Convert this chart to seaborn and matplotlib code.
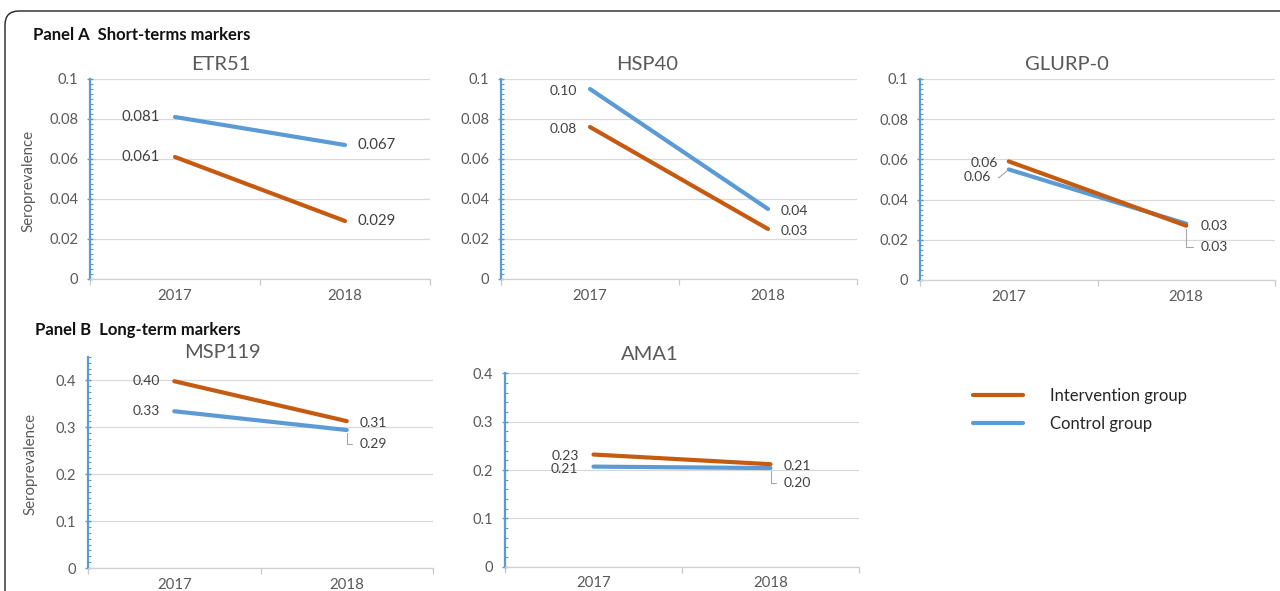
import matplotlib
matplotlib.use("Agg")
import matplotlib.pyplot as plt
from matplotlib.patches import FancyBboxPatch
from matplotlib.transforms import IdentityTransform
from matplotlib.ticker import MultipleLocator, FuncFormatter
import pandas as pd
import seaborn as sns

# ---- data -----------------------------------------------------------------
years = ["2017", "2018"]
groups = ["Intervention group", "Control group"]

etr51_intervention = [0.061, 0.029]
etr51_control = [0.081, 0.067]
hsp40_intervention = [0.076, 0.025]
hsp40_control = [0.095, 0.035]
glurp0_intervention = [0.059, 0.027]
glurp0_control = [0.055, 0.028]
msp119_intervention = [0.398, 0.313]
msp119_control = [0.334, 0.294]
ama1_intervention = [0.232, 0.212]
ama1_control = [0.207, 0.204]

panel_titles = ["ETR51", "HSP40", "GLURP-0", "MSP119", "AMA1"]
label_formats = ["{:.3f}", "{:.2f}", "{:.2f}", "{:.2f}", "{:.2f}"]

# ---- style ----------------------------------------------------------------
sns.set_theme(style="white")
plt.rcParams["font.family"] = ["Lato", "DejaVu Sans"]

ORANGE = "#C55A11"
BLUE = "#5B9BD5"
GREY_TXT = "#595959"
DARK_TXT = "#404040"
GRID = "#D9D9D9"
palette = {"Intervention group": ORANGE, "Control group": BLUE}

W, H = 1280, 591
fig = plt.figure(figsize=(W / 100, H / 100), dpi=100)


def rect(left, right, top, bottom):
    return [left / W, 1 - bottom / H, (right - left) / W, (bottom - top) / H]


# Rounded frame around the whole figure (runs off the right and bottom edges)
frame = FancyBboxPatch((5, -30), 1320, H - 11 + 30,
                       boxstyle="round,pad=0,rounding_size=14",
                       transform=IdentityTransform(), fill=False,
                       edgecolor="#222222", linewidth=1.0)
fig.patches.append(frame)

fig.text(33 / W, 1 - 35 / H, "Panel A  Short-terms markers", fontsize=12,
         fontweight="bold", color="#111111", va="center", ha="left")
fig.text(35 / W, 1 - 330 / H, "Panel B  Long-term markers", fontsize=12,
         fontweight="bold", color="#111111", va="center", ha="left")

panels = [
    dict(rect=rect(90, 430, 79, 279), ylim=0.1, major=0.02, minor=0.0025,
         inter=etr51_intervention, ctrl=etr51_control, title_xy=(221, 64),
         ylabel_xy=(28, 181), fs=10.8,
         # (group, year index, dx px, dy px, ha, leader style)
         labels=[("Intervention group", 0, -15, 0, "right", None),
                 ("Control group", 0, -15, 0, "right", None),
                 ("Intervention group", 1, 13, 0, "left", None),
                 ("Control group", 1, 13, 0, "left", None)]),
    dict(rect=rect(501, 857, 79, 279), ylim=0.1, major=0.02, minor=0.0025,
         inter=hsp40_intervention, ctrl=hsp40_control, title_xy=(647, 64),
         ylabel_xy=None, fs=10,
         labels=[("Intervention group", 0, -13, -2, "right", None),
                 ("Control group", 0, -13, -2, "right", None),
                 ("Intervention group", 1, 13, -2, "left", None),
                 ("Control group", 1, 13, -2, "left", None)]),
    dict(rect=rect(920, 1275, 79, 280), ylim=0.1, major=0.02, minor=0.0025,
         inter=glurp0_intervention, ctrl=glurp0_control, title_xy=(1067, 64),
         ylabel_xy=None, fs=10,
         labels=[("Intervention group", 0, -11, -2, "right", None),
                 ("Control group", 0, -18, -8, "right", "left"),
                 ("Control group", 1, 14, -2, "left", None),
                 ("Intervention group", 1, 14, -21, "left", "down")]),
    dict(rect=rect(88, 433, 356.8, 568), ylim=0.45, major=0.1, minor=0.0125,
         inter=msp119_intervention, ctrl=msp119_control, title_xy=(222, 353),
         ylabel_xy=(30, 464), fs=10,
         labels=[("Intervention group", 0, -14, 0, "right", None),
                 ("Control group", 0, -14, 0, "right", None),
                 ("Intervention group", 1, 13, -2, "left", None),
                 ("Control group", 1, 13, -14, "left", "down")]),
    dict(rect=rect(505, 859, 373.3, 566.7), ylim=0.4, major=0.1, minor=0.02,
         inter=ama1_intervention, ctrl=ama1_control, title_xy=(650, 355),
         ylabel_xy=None, fs=10,
         labels=[("Intervention group", 0, -14, -1, "right", None),
                 ("Control group", 0, -15, -2, "right", None),
                 ("Intervention group", 1, 13, -2, "left", None),
                 ("Control group", 1, 13, -15, "left", "down")]),
]

legend_handles = None
for p, title, fmt in zip(panels, panel_titles, label_formats):
    ax = fig.add_axes(p["rect"])
    df = pd.DataFrame({
        "Year": years * 2,
        "Seroprevalence": list(p["ctrl"]) + list(p["inter"]),
        "Group": ["Control group"] * 2 + ["Intervention group"] * 2,
    })
    sns.lineplot(data=df, x="Year", y="Seroprevalence", hue="Group",
                 hue_order=["Control group", "Intervention group"],
                 palette=palette, linewidth=3.0, sort=False, legend=False,
                 ax=ax, solid_capstyle="round")
    if legend_handles is None:
        ln = ax.get_lines()
        legend_handles = [ln[1], ln[0]]

    ax.set_xlim(-0.5, 1.5)
    ax.set_ylim(0, p["ylim"])
    ax.set_xlabel("")
    ax.set_ylabel("")

    # y axis: blue spine, crossing major ticks, inner minor ticks
    ax.yaxis.set_major_locator(MultipleLocator(p["major"]))
    ax.yaxis.set_minor_locator(MultipleLocator(p["minor"]))
    ax.yaxis.set_major_formatter(
        FuncFormatter(lambda v, _: f"{v:g}" if v else "0"))
    ax.tick_params(axis="y", which="major", direction="inout", length=5,
                   width=1, color=BLUE, labelsize=10.5, labelcolor=GREY_TXT,
                   pad=6, left=True)
    ax.tick_params(axis="y", which="minor", direction="in", length=2.5,
                   width=0.8, color=BLUE, left=True)
    ax.grid(axis="y", which="major", color=GRID, linewidth=0.9)
    ax.set_axisbelow(True)

    # x axis: category separators as ticks
    ax.set_xticks([0, 1])
    ax.set_xticklabels(years)
    ax.set_xticks([-0.5, 0.5, 1.5], minor=True)
    ax.tick_params(axis="x", which="major", length=0, labelsize=10.8,
                   labelcolor=GREY_TXT, pad=7)
    ax.tick_params(axis="x", which="minor", direction="out", length=4,
                   width=0.9, color="#C8C8C8", bottom=True)

    for side in ("top", "right"):
        ax.spines[side].set_visible(False)
    ax.spines["left"].set_color(BLUE)
    ax.spines["left"].set_linewidth(1.6)
    ax.spines["bottom"].set_color("#D0D0D0")
    ax.spines["bottom"].set_linewidth(0.9)

    tx, ty = p["title_xy"]
    fig.text(tx / W, 1 - ty / H, title, fontsize=14.5, color=GREY_TXT,
             ha="center", va="center")
    if p["ylabel_xy"] is not None:
        lx, ly = p["ylabel_xy"]
        fig.text(lx / W, 1 - ly / H, "Seroprevalence", fontsize=10.8,
                 color=GREY_TXT, rotation=90, ha="center", va="center")

    values = {"Intervention group": p["inter"], "Control group": p["ctrl"]}
    for grp, i, dx, dy, ha, leader in p["labels"]:
        v = values[grp][i]
        kw = {}
        if leader == "down":
            kw["arrowprops"] = dict(arrowstyle="-", color="#A6A6A6", lw=0.8,
                                    shrinkA=3, shrinkB=2, relpos=(0, 0.5),
                                    connectionstyle="angle,angleA=0,angleB=90,rad=0")
        elif leader == "left":
            kw["arrowprops"] = dict(arrowstyle="-", color="#A6A6A6", lw=0.8,
                                    shrinkA=3, shrinkB=1, relpos=(1, 0.5),
                                    connectionstyle="angle,angleA=0,angleB=40,rad=0")
        ax.annotate(fmt.format(v), xy=(i, v), xytext=(dx, dy),
                    textcoords="offset pixels", ha=ha, va="center",
                    fontsize=p["fs"], color=DARK_TXT, annotation_clip=False,
                    **kw)

fig.legend(legend_handles, groups, loc="upper left",
           bbox_to_anchor=(973 / W, 1 - 388 / H), frameon=False,
           fontsize=12, handlelength=3.0, handletextpad=1.6,
           labelspacing=0.72, borderpad=0, borderaxespad=0,
           labelcolor="#262626")

fig.savefig("out.png", dpi=100, facecolor="white")
